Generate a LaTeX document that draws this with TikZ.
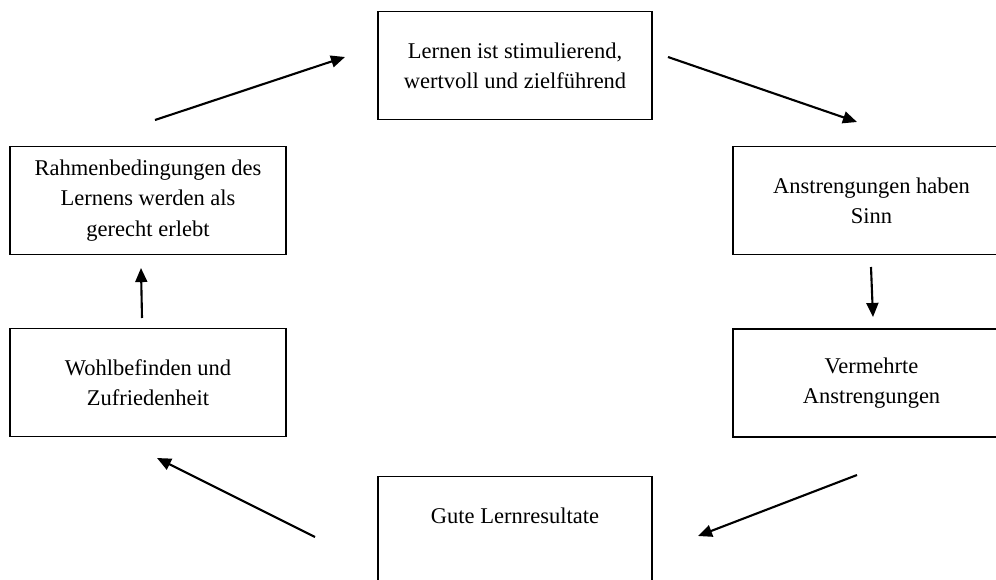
\documentclass[tikz,border=0pt]{standalone}
\usepackage{fontspec}
\setmainfont{Liberation Serif}
\usetikzlibrary{arrows.meta}
\tikzset{
  stepbox/.style={draw=black, line width=0.9pt, align=center, inner sep=0pt,
    minimum height=2.7cm, font=\fontsize{16}{21.5}\selectfont},
  flow/.style={line width=1.5pt, -{Triangle[length=10pt,width=8.5pt]}}
}
\begin{document}
\begin{tikzpicture}[x=0.025cm, y=-0.025cm]
		%%%%% START %%%%%
		\useasboundingbox (0, 0) rectangle (996, 580);
		\clip (0, 0) rectangle (996, 580);
		
		\node[stepbox, minimum width=6.85cm] (lernen) at (515, 65.5) {Lernen ist stimulierend,\\wertvoll und zielführend};
		\node[stepbox, minimum width=6.925cm] (sinn) at (871.5, 200.5) {Anstrengungen haben\\Sinn};
		\node[stepbox, minimum width=6.925cm] (vermehrt) at (871.5, 383) {Vermehrte\\Anstrengungen};
		\node[stepbox, minimum width=6.85cm] (gute) at (515, 530.5) {Gute Lernresultate\\~};
		\node[stepbox, minimum width=6.9cm] (wohl) at (148, 382.5) {Wohlbefinden und\\Zufriedenheit};
		\node[stepbox, minimum width=6.9cm] (rahmen) at (148, 200.5) {Rahmenbedingungen des\\Lernens werden als\\gerecht erlebt};
		
		\coordinate (rahmen-out) at (155, 120);
		\coordinate (lernen-in) at (345, 57);
		\coordinate (lernen-out) at (668, 57);
		\coordinate (sinn-in) at (857, 122);
		\coordinate (sinn-out) at (871, 267);
		\coordinate (vermehrt-in) at (873, 317);
		\coordinate (vermehrt-out) at (857, 475);
		\coordinate (gute-in) at (698, 536);
		\coordinate (gute-out) at (315, 537);
		\coordinate (wohl-in) at (157, 458);
		\coordinate (wohl-out) at (142, 318);
		\coordinate (rahmen-in) at (141, 268);
		
		\draw[flow] (rahmen-out) -- (lernen-in);
		\draw[flow] (lernen-out) -- (sinn-in);
		\draw[flow] (sinn-out) -- (vermehrt-in);
		\draw[flow] (vermehrt-out) -- (gute-in);
		\draw[flow] (gute-out) -- (wohl-in);
		\draw[flow] (wohl-out) -- (rahmen-in);
		
		%%%%% END %%%%%
	\end{tikzpicture}
\end{document}
